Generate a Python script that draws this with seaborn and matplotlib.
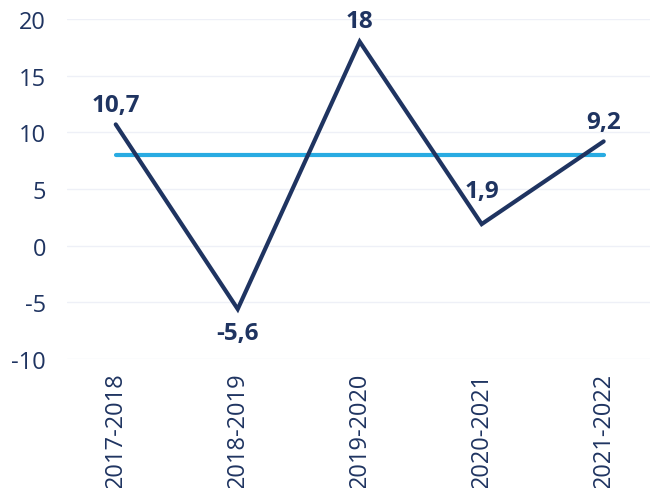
import matplotlib
matplotlib.use('Agg')
import matplotlib.pyplot as plt
import pandas as pd
import seaborn as sns

periods = ['2017-2018', '2018-2019', '2019-2020', '2020-2021', '2021-2022']
values = [10.7, -5.6, 18, 1.9, 9.2]
average = [8, 8, 8, 8, 8]
value_labels = ['10,7', '-5,6', '18', '1,9', '9,2']

navy = '#1f3461'
blue = '#29abe2'

sns.set_theme(style='white')
plt.rcParams['font.family'] = ['Open Sans', 'DejaVu Sans']
plt.rcParams['axes.unicode_minus'] = False

df = pd.DataFrame({'period': periods, 'value': values, 'average': average})

fig = plt.figure(figsize=(6.5, 4.89), dpi=100)
ax = fig.add_axes([0.103, 0.264, 0.897, 0.695])

sns.lineplot(data=df, x='period', y='average', color=blue, linewidth=3,
             solid_capstyle='round', ax=ax, zorder=2)
sns.lineplot(data=df, x='period', y='value', color=navy, linewidth=3,
             solid_capstyle='round', solid_joinstyle='miter', ax=ax, zorder=3)

# data labels
offsets = [14, -17, 15, 24, 14]
for i, (v, lab, off) in enumerate(zip(values, value_labels, offsets)):
    ax.annotate(lab, (i, v), xytext=(0, off), textcoords='offset points',
                ha='center', va='center', fontsize=17.5, fontweight='bold',
                color=navy, annotation_clip=False)

ax.set_ylim(-10, 20)
ax.set_xlim(-0.4, 4.38)
ax.set_yticks([-10, -5, 0, 5, 10, 15, 20])
ax.yaxis.grid(True, color='#eef0f7', linewidth=1)
ax.xaxis.grid(False)
for s in ax.spines.values():
    s.set_visible(False)
ax.set_xlabel('')
ax.set_ylabel('')
ax.tick_params(axis='y', length=0, labelsize=17, labelcolor=navy, pad=15)
ax.tick_params(axis='x', length=0, labelsize=17, labelcolor=navy, pad=9)
plt.setp(ax.get_xticklabels(), rotation=90, va='top', ha='center')

fig.savefig('out.png', dpi=100)
